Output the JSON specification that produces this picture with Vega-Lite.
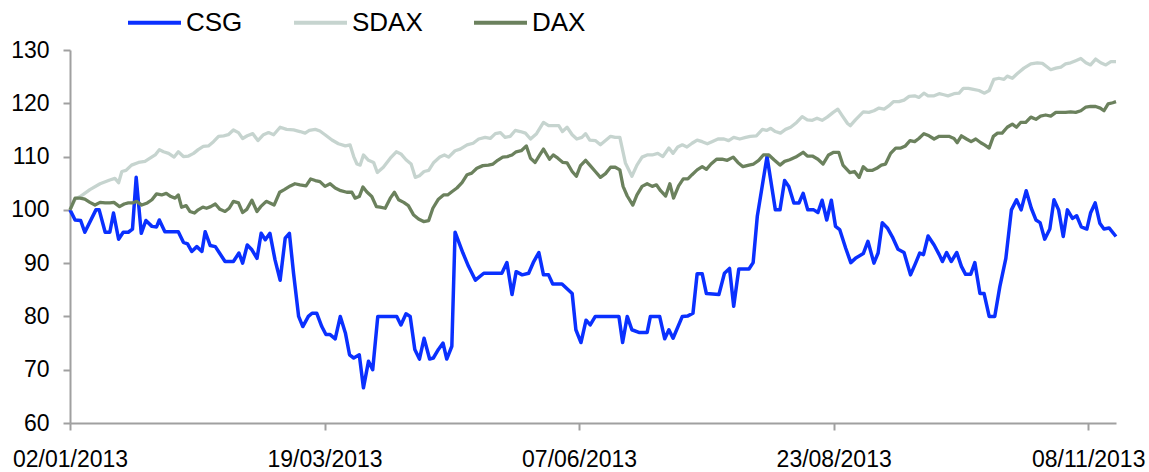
{
  "$schema": "https://vega.github.io/schema/vega-lite/v6.json",
  "autosize": {"type": "none"},
  "padding": {"left": 70, "top": 50, "right": 33, "bottom": 49},
  "width": 1046,
  "height": 373,
  "background": "white",
  "config": {"view": {"stroke": null}, "font": "Liberation Sans"},
  "datasets": {
    "CSG": [{"i":0,"v":100},{"i":1.1,"v":98.1},{"i":2.3,"v":98},{"i":3.2,"v":95.8},{"i":5.6,"v":100},{"i":6.3,"v":100},{"i":7.6,"v":95.8},{"i":8.6,"v":95.8},{"i":9.4,"v":99.4},{"i":10.5,"v":94.5},{"i":11.5,"v":95.8},{"i":12.6,"v":95.8},{"i":13.5,"v":96.4},{"i":14.3,"v":106.1},{"i":15.4,"v":95.6},{"i":16.4,"v":98},{"i":17.7,"v":96.9},{"i":18.7,"v":96.8},{"i":19.3,"v":98.1},{"i":20.5,"v":95.9},{"i":22,"v":95.9},{"i":23.4,"v":95.9},{"i":24.5,"v":93.9},{"i":25.4,"v":93.6},{"i":26.3,"v":92.2},{"i":27.4,"v":93.1},{"i":28.5,"v":92.2},{"i":29.2,"v":95.9},{"i":30.3,"v":93.3},{"i":31.4,"v":93.1},{"i":32.3,"v":91.9},{"i":33.5,"v":90.3},{"i":35.3,"v":90.3},{"i":36.5,"v":91.9},{"i":37.3,"v":90},{"i":38.3,"v":93.4},{"i":39.3,"v":92.5},{"i":40.4,"v":90.9},{"i":41.3,"v":95.6},{"i":42.2,"v":94.4},{"i":43.2,"v":95.6},{"i":44.3,"v":90.6},{"i":45.4,"v":86.8},{"i":46.5,"v":94.7},{"i":47.4,"v":95.6},{"i":48.3,"v":88.1},{"i":49.4,"v":80},{"i":50.3,"v":78.1},{"i":51.5,"v":80},{"i":52.3,"v":80.6},{"i":53.3,"v":80.6},{"i":54.4,"v":78.1},{"i":55.3,"v":76.6},{"i":56.2,"v":76.6},{"i":57.3,"v":75.8},{"i":58.4,"v":80},{"i":59.5,"v":76.9},{"i":60.4,"v":72.8},{"i":61.3,"v":72.2},{"i":62.5,"v":72.8},{"i":63.4,"v":66.6},{"i":64.5,"v":71.6},{"i":65.4,"v":70},{"i":66.5,"v":80},{"i":70.6,"v":80},{"i":71.5,"v":78.4},{"i":72.6,"v":80.5},{"i":73.5,"v":80},{"i":74.5,"v":73.8},{"i":75.5,"v":72},{"i":76.5,"v":75.9},{"i":77.7,"v":72},{"i":78.5,"v":72.2},{"i":79.6,"v":73.8},{"i":80.6,"v":75},{"i":81.4,"v":72},{"i":82.5,"v":74.4},{"i":83.2,"v":95.8},{"i":84.9,"v":91.9},{"i":86.1,"v":89.4},{"i":87.6,"v":86.8},{"i":89.4,"v":88.1},{"i":93.3,"v":88.1},{"i":94.4,"v":90.1},{"i":95.5,"v":84.1},{"i":96.4,"v":88.4},{"i":97.7,"v":87.8},{"i":99.1,"v":88.1},{"i":100.2,"v":90.3},{"i":101.3,"v":92},{"i":102.3,"v":87.8},{"i":103.4,"v":87.8},{"i":104.3,"v":86.1},{"i":106.3,"v":86.1},{"i":108.5,"v":84.3},{"i":109.3,"v":77.5},{"i":110.4,"v":75.1},{"i":111.5,"v":79.3},{"i":112.4,"v":78.4},{"i":113.5,"v":80},{"i":118.6,"v":80},{"i":119.4,"v":75.1},{"i":120.4,"v":80},{"i":121.4,"v":77.5},{"i":122.9,"v":77},{"i":124.7,"v":77},{"i":125.4,"v":80},{"i":127.4,"v":80},{"i":128.5,"v":75.8},{"i":129.4,"v":77.5},{"i":130.3,"v":75.9},{"i":132.3,"v":80},{"i":133.5,"v":80.1},{"i":134.6,"v":80.6},{"i":135.5,"v":88},{"i":136.6,"v":88},{"i":137.5,"v":84.3},{"i":140.2,"v":84.1},{"i":141.4,"v":88.1},{"i":142.5,"v":89},{"i":143.4,"v":81.9},{"i":144.5,"v":88.9},{"i":146.7,"v":88.9},{"i":147.6,"v":90.1},{"i":148.5,"v":98.8},{"i":150.6,"v":110},{"i":152.4,"v":100},{"i":153.4,"v":100},{"i":154.4,"v":105.5},{"i":155.3,"v":104.4},{"i":156.4,"v":101.3},{"i":157.5,"v":101.3},{"i":158.4,"v":103.1},{"i":159.4,"v":100},{"i":160.7,"v":100},{"i":161.6,"v":99.5},{"i":162.5,"v":101.8},{"i":163.5,"v":98.1},{"i":164.5,"v":101.8},{"i":165.4,"v":96.9},{"i":166.3,"v":96.3},{"i":167.6,"v":92.8},{"i":168.7,"v":90.1},{"i":169.7,"v":90.9},{"i":171.4,"v":91.8},{"i":172.4,"v":94.1},{"i":173.7,"v":90},{"i":174.6,"v":91.9},{"i":175.5,"v":97.6},{"i":176.6,"v":96.6},{"i":177.7,"v":94.9},{"i":178.9,"v":92.6},{"i":180.2,"v":92},{"i":181.6,"v":87.8},{"i":182.7,"v":90},{"i":183.6,"v":91.9},{"i":184.4,"v":91.6},{"i":185.4,"v":95.1},{"i":186.7,"v":93.4},{"i":187.8,"v":91.6},{"i":188.5,"v":90.3},{"i":189.4,"v":92},{"i":190.4,"v":90.3},{"i":191.6,"v":92},{"i":192.6,"v":89.4},{"i":193.5,"v":87.9},{"i":194.6,"v":87.9},{"i":195.5,"v":90.1},{"i":196.6,"v":84.3},{"i":197.5,"v":84.3},{"i":198.6,"v":80},{"i":199.8,"v":80},{"i":200.9,"v":85.6},{"i":202.2,"v":90.9},{"i":203.4,"v":100},{"i":204.5,"v":101.9},{"i":205.5,"v":100},{"i":206.6,"v":103.6},{"i":207.7,"v":100.3},{"i":208.7,"v":98.1},{"i":209.6,"v":97.6},{"i":210.6,"v":94.5},{"i":211.7,"v":96.4},{"i":212.6,"v":101.9},{"i":213.6,"v":100},{"i":214.6,"v":95},{"i":215.5,"v":100},{"i":216.6,"v":98.4},{"i":217.5,"v":98.9},{"i":218.5,"v":96.8},{"i":219.7,"v":96.4},{"i":220.5,"v":99.4},{"i":221.5,"v":101.3},{"i":222.5,"v":97.5},{"i":223.4,"v":96.4},{"i":224.5,"v":96.6},{"i":226,"v":95}],
    "SDAX": [{"i":0,"v":100},{"i":1.1,"v":102},{"i":2.2,"v":102.5},{"i":4.3,"v":103.8},{"i":6.5,"v":104.9},{"i":8.6,"v":105.6},{"i":9.7,"v":105.9},{"i":10.5,"v":105.1},{"i":11.2,"v":107.2},{"i":12.1,"v":107.4},{"i":13.3,"v":108.4},{"i":14.8,"v":108.9},{"i":16.2,"v":109.1},{"i":17.3,"v":109.7},{"i":18.4,"v":110.3},{"i":19.3,"v":111.3},{"i":20.2,"v":110.9},{"i":21.3,"v":110.6},{"i":22.5,"v":109.9},{"i":23.4,"v":110.9},{"i":24.5,"v":110},{"i":25.6,"v":110.1},{"i":26.7,"v":110.6},{"i":27.7,"v":111.3},{"i":28.8,"v":111.9},{"i":29.9,"v":112},{"i":31,"v":112.8},{"i":32.1,"v":113.8},{"i":33.2,"v":113.9},{"i":34.2,"v":114.1},{"i":35.3,"v":115},{"i":36.4,"v":114.5},{"i":37.3,"v":113.4},{"i":38.3,"v":113.9},{"i":39.5,"v":114.3},{"i":40.6,"v":113},{"i":41.8,"v":114.1},{"i":42.9,"v":114.5},{"i":44,"v":114.1},{"i":45.4,"v":115.5},{"i":46.8,"v":115.1},{"i":48.3,"v":115},{"i":49.7,"v":114.7},{"i":50.8,"v":114.4},{"i":51.7,"v":114.9},{"i":53,"v":115.1},{"i":54,"v":114.8},{"i":55.1,"v":114.1},{"i":56.6,"v":113.1},{"i":58,"v":112.4},{"i":59.5,"v":112},{"i":60.5,"v":112.2},{"i":61.3,"v":110},{"i":62,"v":108.6},{"i":62.7,"v":108.4},{"i":63.4,"v":110.3},{"i":64.5,"v":109.3},{"i":65.6,"v":108.9},{"i":66.4,"v":107},{"i":67.7,"v":108},{"i":69.2,"v":109.7},{"i":70.5,"v":110.9},{"i":71.5,"v":110.5},{"i":72.6,"v":109.4},{"i":73.7,"v":108.6},{"i":74.6,"v":106.1},{"i":75.5,"v":106.4},{"i":76.5,"v":107.2},{"i":77.5,"v":107.4},{"i":78.6,"v":108.9},{"i":79.9,"v":109.9},{"i":80.9,"v":110.3},{"i":81.8,"v":109.9},{"i":83.2,"v":111.1},{"i":84.3,"v":111.4},{"i":85.8,"v":112.2},{"i":87.1,"v":112.5},{"i":88.3,"v":113.3},{"i":89.7,"v":113.6},{"i":90.8,"v":113.4},{"i":91.9,"v":114.3},{"i":93,"v":114.5},{"i":94,"v":113.6},{"i":95.1,"v":113.8},{"i":96.2,"v":114.9},{"i":97.3,"v":114.7},{"i":98.4,"v":114.4},{"i":99.5,"v":113.3},{"i":100.8,"v":114.3},{"i":102.3,"v":116.4},{"i":103.4,"v":115.8},{"i":104.5,"v":115.8},{"i":105.6,"v":115.8},{"i":106.4,"v":114.7},{"i":107.4,"v":115.5},{"i":108.5,"v":114.1},{"i":109.5,"v":113.3},{"i":110.6,"v":113.6},{"i":111.4,"v":114.3},{"i":112.3,"v":113.1},{"i":113.5,"v":113},{"i":114.6,"v":112.2},{"i":115.7,"v":113},{"i":116.8,"v":113.8},{"i":117.8,"v":113.6},{"i":118.8,"v":113.6},{"i":120,"v":108.8},{"i":121.4,"v":106.3},{"i":122.5,"v":108.4},{"i":123.6,"v":109.9},{"i":124.7,"v":110.3},{"i":125.8,"v":110.3},{"i":127,"v":110.6},{"i":128.1,"v":110},{"i":129.4,"v":111.6},{"i":130.3,"v":110.6},{"i":131.3,"v":111.8},{"i":132.3,"v":112.2},{"i":133.3,"v":111.8},{"i":134.4,"v":112.5},{"i":135.5,"v":113.1},{"i":136.6,"v":112.8},{"i":137.7,"v":112.4},{"i":138.7,"v":112.8},{"i":140,"v":113.3},{"i":141.3,"v":113.3},{"i":142.3,"v":113},{"i":143.4,"v":113.6},{"i":144.7,"v":113.3},{"i":146,"v":113.6},{"i":147,"v":113.8},{"i":148.3,"v":113.9},{"i":149.6,"v":115.1},{"i":150.5,"v":114.9},{"i":151.4,"v":115.3},{"i":152.4,"v":114.7},{"i":153.5,"v":114.4},{"i":154.6,"v":115.1},{"i":155.7,"v":115.5},{"i":157,"v":116.4},{"i":158.2,"v":117.5},{"i":159.3,"v":116.9},{"i":160.4,"v":116.8},{"i":161.4,"v":117.2},{"i":162.5,"v":116.8},{"i":163.6,"v":117.4},{"i":164.9,"v":118.3},{"i":165.9,"v":118.9},{"i":166.9,"v":117.6},{"i":168,"v":116.2},{"i":168.6,"v":115.8},{"i":169.7,"v":116.9},{"i":171.4,"v":118.4},{"i":172.6,"v":118.3},{"i":173.7,"v":118.6},{"i":174.8,"v":119.1},{"i":175.9,"v":118.9},{"i":176.9,"v":119.5},{"i":177.9,"v":120.3},{"i":179.1,"v":120.3},{"i":180.2,"v":120.6},{"i":181.3,"v":121.3},{"i":182.5,"v":121.4},{"i":183.4,"v":121.1},{"i":184.5,"v":121.9},{"i":185.4,"v":121.4},{"i":186.7,"v":121.4},{"i":187.8,"v":121.8},{"i":188.8,"v":121.6},{"i":189.7,"v":121.4},{"i":191,"v":121.8},{"i":192.1,"v":121.9},{"i":193,"v":122.8},{"i":194.1,"v":122.8},{"i":195.2,"v":122.6},{"i":196.4,"v":122.4},{"i":197.6,"v":121.9},{"i":198.6,"v":122.4},{"i":199.6,"v":124.5},{"i":200.7,"v":124.7},{"i":201.8,"v":124.5},{"i":202.5,"v":125.1},{"i":203.6,"v":124.7},{"i":204.7,"v":125.6},{"i":206.1,"v":126.6},{"i":207.6,"v":127.4},{"i":209,"v":127.6},{"i":210.1,"v":127.5},{"i":211,"v":126.9},{"i":211.9,"v":126.3},{"i":213,"v":126.6},{"i":214.1,"v":126.8},{"i":215.1,"v":127.4},{"i":216.2,"v":127.6},{"i":217.3,"v":128},{"i":218.4,"v":128.4},{"i":219.5,"v":127.6},{"i":220.5,"v":127.2},{"i":221.6,"v":128.3},{"i":222.7,"v":127.6},{"i":223.8,"v":127.2},{"i":224.9,"v":127.8},{"i":226,"v":127.8}],
    "DAX": [{"i":0,"v":100},{"i":1.1,"v":102.2},{"i":2.2,"v":102.2},{"i":3.2,"v":102},{"i":4.3,"v":101.4},{"i":5.4,"v":100.9},{"i":6.5,"v":101.4},{"i":7.6,"v":101.3},{"i":8.6,"v":101.3},{"i":9.5,"v":101.4},{"i":10.7,"v":100.6},{"i":11.7,"v":101.1},{"i":12.6,"v":101.3},{"i":13.5,"v":101.3},{"i":14.4,"v":101.6},{"i":15.5,"v":100.9},{"i":16.7,"v":101.3},{"i":17.7,"v":101.9},{"i":18.7,"v":103},{"i":19.8,"v":102.8},{"i":20.8,"v":103.1},{"i":21.8,"v":102.5},{"i":22.7,"v":102.2},{"i":23.4,"v":102.8},{"i":24.1,"v":100.5},{"i":25.1,"v":100.8},{"i":25.9,"v":99.7},{"i":26.9,"v":99.4},{"i":27.7,"v":100},{"i":28.7,"v":100.5},{"i":29.5,"v":100.3},{"i":30.4,"v":100.6},{"i":31.4,"v":101.1},{"i":32.4,"v":100.1},{"i":33.5,"v":99.7},{"i":34.4,"v":100.3},{"i":35.3,"v":101.6},{"i":36.4,"v":101.3},{"i":37.3,"v":99.5},{"i":38.2,"v":100.1},{"i":39.3,"v":101.8},{"i":40.4,"v":99.7},{"i":41.2,"v":100.6},{"i":42.4,"v":101.6},{"i":43.2,"v":101.3},{"i":44.1,"v":100.9},{"i":45.3,"v":103.3},{"i":46.3,"v":103.8},{"i":47.6,"v":104.5},{"i":48.6,"v":104.9},{"i":49.7,"v":104.7},{"i":51,"v":104.5},{"i":52,"v":105.8},{"i":53,"v":105.5},{"i":54,"v":105.3},{"i":55.1,"v":104.4},{"i":56.2,"v":104.9},{"i":57.3,"v":104.1},{"i":58.5,"v":103.6},{"i":59.8,"v":103.3},{"i":60.9,"v":103.3},{"i":61.6,"v":102.2},{"i":62.5,"v":102.5},{"i":63.3,"v":104.3},{"i":64.1,"v":103.4},{"i":65.2,"v":102.5},{"i":66.2,"v":100.6},{"i":67,"v":100.5},{"i":68.1,"v":100.3},{"i":69.2,"v":102.2},{"i":70.1,"v":103.3},{"i":71,"v":101.9},{"i":72.1,"v":101.4},{"i":73.1,"v":100.8},{"i":74.2,"v":99.1},{"i":75.3,"v":98.3},{"i":76.4,"v":97.8},{"i":77.5,"v":98},{"i":78.4,"v":100.3},{"i":79.6,"v":102},{"i":80.7,"v":102.8},{"i":81.6,"v":102.8},{"i":82.5,"v":103.4},{"i":83.6,"v":104.1},{"i":84.7,"v":105.1},{"i":85.8,"v":106.6},{"i":86.8,"v":106.9},{"i":87.9,"v":107.8},{"i":89.2,"v":108.3},{"i":90.4,"v":108.4},{"i":91.4,"v":108.6},{"i":92.4,"v":109.3},{"i":93.5,"v":109.9},{"i":94.5,"v":110},{"i":95.5,"v":110.3},{"i":96.4,"v":110.9},{"i":97.5,"v":111.1},{"i":98.6,"v":112},{"i":99.5,"v":109.7},{"i":100.5,"v":108.9},{"i":101.5,"v":110.3},{"i":102.3,"v":111.4},{"i":103.6,"v":109.5},{"i":104.4,"v":110.3},{"i":105.4,"v":109.7},{"i":106.5,"v":108.9},{"i":107.4,"v":108.8},{"i":108.5,"v":107.2},{"i":109.4,"v":106.3},{"i":110.3,"v":108.3},{"i":111.4,"v":109.3},{"i":112.4,"v":108.3},{"i":113.5,"v":107.2},{"i":114.6,"v":106.1},{"i":115.7,"v":106.8},{"i":116.8,"v":108},{"i":117.8,"v":108},{"i":118.8,"v":107.5},{"i":119.5,"v":104.4},{"i":120.4,"v":102.6},{"i":121.6,"v":100.9},{"i":122.5,"v":102.8},{"i":123.6,"v":104.4},{"i":124.7,"v":104.9},{"i":125.8,"v":104.4},{"i":126.7,"v":104.7},{"i":127.6,"v":103.6},{"i":128.7,"v":102.6},{"i":129.6,"v":104.9},{"i":130.4,"v":102.2},{"i":131.5,"v":104.5},{"i":132.5,"v":105.8},{"i":133.5,"v":105.8},{"i":134.4,"v":106.6},{"i":135.5,"v":107.5},{"i":136.6,"v":108.1},{"i":137.5,"v":107.6},{"i":138.5,"v":108.6},{"i":139.7,"v":109.5},{"i":140.9,"v":109.5},{"i":142,"v":109.3},{"i":143.3,"v":109.9},{"i":144.3,"v":108.9},{"i":145.4,"v":108.1},{"i":146.7,"v":108.4},{"i":147.7,"v":108.6},{"i":148.8,"v":109.3},{"i":149.8,"v":110.3},{"i":151,"v":110.3},{"i":152.1,"v":109.4},{"i":153.4,"v":108.4},{"i":154.4,"v":109.1},{"i":155.5,"v":109.4},{"i":156.8,"v":109.9},{"i":158.4,"v":110.8},{"i":159.3,"v":110.1},{"i":160.4,"v":110.1},{"i":161.6,"v":109.5},{"i":162.7,"v":108.6},{"i":163.9,"v":110.3},{"i":165,"v":110.8},{"i":166.1,"v":110.8},{"i":167,"v":108.4},{"i":168.5,"v":107},{"i":169.5,"v":107.2},{"i":170.5,"v":106.1},{"i":171.4,"v":108.1},{"i":172.3,"v":107.4},{"i":173.3,"v":107.4},{"i":174.3,"v":107.8},{"i":175.3,"v":108.4},{"i":176.2,"v":108.6},{"i":177.3,"v":110.6},{"i":178.4,"v":111.6},{"i":179.5,"v":111.6},{"i":180.5,"v":112},{"i":181.5,"v":113},{"i":182.5,"v":112.8},{"i":183.4,"v":113.4},{"i":184.5,"v":114.3},{"i":185.6,"v":113.9},{"i":186.7,"v":113.3},{"i":187.8,"v":113.8},{"i":188.8,"v":113.8},{"i":189.9,"v":113.8},{"i":191,"v":113.4},{"i":191.7,"v":112.6},{"i":192.6,"v":113.9},{"i":193.7,"v":113.3},{"i":194.7,"v":112.8},{"i":195.7,"v":113.3},{"i":196.8,"v":112.6},{"i":197.6,"v":112.2},{"i":198.6,"v":111.6},{"i":199.5,"v":113.8},{"i":200.4,"v":114.4},{"i":201.4,"v":114.4},{"i":202.5,"v":115.5},{"i":203.6,"v":116.1},{"i":204.5,"v":115.5},{"i":205.4,"v":116.4},{"i":206.5,"v":116.4},{"i":207.6,"v":117.4},{"i":208.7,"v":117},{"i":209.7,"v":117.6},{"i":210.8,"v":117.8},{"i":211.9,"v":117.6},{"i":213,"v":118.3},{"i":214.1,"v":118.3},{"i":215.1,"v":118.3},{"i":216.2,"v":118.4},{"i":217.3,"v":118.3},{"i":218.4,"v":118.6},{"i":219.5,"v":119.3},{"i":220.5,"v":119.4},{"i":221.6,"v":119.4},{"i":222.6,"v":119.1},{"i":223.4,"v":118.6},{"i":224.3,"v":119.9},{"i":225.3,"v":120.1},{"i":226,"v":120.3}]
  },
  "encoding": {
    "x": {
      "field": "i", "type": "quantitative",
      "scale": {"domain": [0, 226], "nice": false, "zero": false},
      "axis": {
        "title": null, "grid": false, "values": [0, 55, 110, 165, 220],
        "labelExpr": "datum.value == 0 ? '02/01/2013' : datum.value == 55 ? '19/03/2013' : datum.value == 110 ? '07/06/2013' : datum.value == 165 ? '23/08/2013' : '08/11/2013'",
        "domainColor": "#a0a0a0", "domainWidth": 2, "tickColor": "#a0a0a0", "tickWidth": 2, "tickSize": 7,
        "labelFont": "Liberation Sans", "labelFontSize": 23, "labelColor": "#000000", "labelPadding": 18,
        "labelFlush": false, "labelOverlap": false, "labelBound": false
      }
    },
    "y": {
      "field": "v", "type": "quantitative",
      "scale": {"domain": [60, 130], "nice": false, "zero": false},
      "axis": {
        "title": null, "grid": false, "values": [60, 70, 80, 90, 100, 110, 120, 130],
        "domainColor": "#a0a0a0", "domainWidth": 2, "tickColor": "#a0a0a0", "tickWidth": 2, "tickSize": 7,
        "labelFont": "Liberation Sans", "labelFontSize": 23, "labelColor": "#000000", "labelPadding": 14,
        "labelFlush": false, "labelOverlap": false
      }
    }
  },
  "layer": [
    {
      "data": {"name": "CSG"},
      "mark": {"type": "line", "strokeWidth": 3.5, "strokeJoin": "round"},
      "encoding": {
        "color": {
          "datum": "CSG", "type": "nominal",
          "scale": {"domain": ["CSG", "SDAX", "DAX"], "range": ["#0a30ff", "#c6d4cf", "#6b815d"]},
          "legend": {
            "title": null, "orient": "none", "legendX": 56, "legendY": -56, "direction": "horizontal",
            "symbolType": "stroke", "symbolSize": 2809, "symbolStrokeWidth": 4,
            "labelFont": "Liberation Sans", "labelFontSize": 26, "labelColor": "#000000", "labelOffset": 3,
            "columnPadding": 43, "padding": 0
          }
        }
      }
    },
    {
      "data": {"name": "SDAX"},
      "mark": {"type": "line", "strokeWidth": 3.3, "strokeJoin": "round"},
      "encoding": {"color": {"datum": "SDAX", "type": "nominal"}}
    },
    {
      "data": {"name": "DAX"},
      "mark": {"type": "line", "strokeWidth": 3.3, "strokeJoin": "round"},
      "encoding": {"color": {"datum": "DAX", "type": "nominal"}}
    }
  ]
}
